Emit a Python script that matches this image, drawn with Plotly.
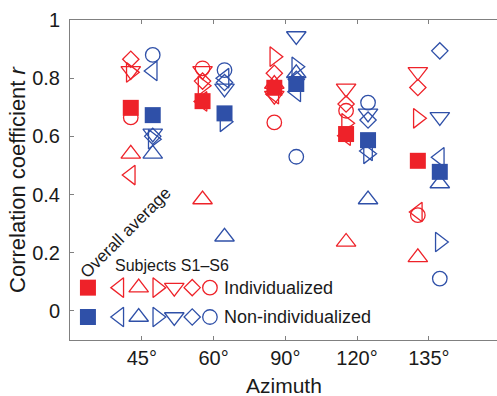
import plotly.graph_objects as go

# ---------------- data ----------------
azimuths = ["45°", "60°", "90°", "120°", "135°"]
subjects = ["S1", "S2", "S3", "S4", "S5", "S6"]

# Individualized (red), one list per subject across azimuths
ind_s1 = [0.467, 0.720, 0.745, 0.602, 0.340]
ind_s2 = [0.540, 0.383, 0.780, 0.237, 0.184]
ind_s3 = [0.820, 0.774, 0.874, 0.645, 0.662]
ind_s4 = [0.825, 0.825, 0.740, 0.765, 0.822]
ind_s5 = [0.865, 0.790, 0.817, 0.711, 0.768]
ind_s6 = [0.665, 0.834, 0.648, 0.688, 0.329]
ind_avg = [0.698, 0.721, 0.767, 0.608, 0.516]

# Non-individualized (blue)
non_s1 = [0.825, 0.800, 0.753, 0.550, 0.528]
non_s2 = [0.540, 0.255, 0.817, 0.383, 0.438]
non_s3 = [0.590, 0.650, 0.839, 0.540, 0.237]
non_s4 = [0.610, 0.765, 0.945, 0.679, 0.667]
non_s5 = [0.600, 0.785, 0.796, 0.656, 0.894]
non_s6 = [0.880, 0.828, 0.530, 0.716, 0.111]
non_avg = [0.673, 0.679, 0.780, 0.587, 0.478]

ind_subjects = [ind_s1, ind_s2, ind_s3, ind_s4, ind_s5, ind_s6]
non_subjects = [non_s1, non_s2, non_s3, non_s4, non_s5, non_s6]

# ---------------- style ----------------
RED = "#EE2229"
BLUE = "#2F50A8"
AXIS = "#808080"
TXT = "#1a1a1a"
FONT = "Liberation Sans, Arial, sans-serif"
symbols = ["triangle-left-open", "triangle-up-open", "triangle-right-open",
           "triangle-down-open", "diamond-open", "circle-open"]
sizes = [17, 17, 17, 17, 12.5, 14.5]
OFF = 0.153

fig = go.Figure()
xpos = list(range(1, len(azimuths) + 1))

for vals_list, color, off in ((ind_subjects, RED, -OFF), (non_subjects, BLUE, OFF)):
    for k, vals in enumerate(vals_list):
        fig.add_trace(go.Scatter(
            x=[x + off for x in xpos], y=vals, mode="markers",
            name=subjects[k], showlegend=False,
            marker=dict(symbol=symbols[k], size=sizes[k], color=color,
                        line=dict(width=1.3, color=color)),
        ))

for avg, color, off in ((ind_avg, RED, -OFF), (non_avg, BLUE, OFF)):
    fig.add_trace(go.Scatter(
        x=[x + off for x in xpos], y=avg, mode="markers", showlegend=False,
        marker=dict(symbol="square", size=16, color=color, line=dict(width=0)),
    ))

# ---------------- in-plot legend ----------------
leg_rows = [("Individualized", RED, 0.080), ("Non-individualized", BLUE, -0.021)]
sq_x = 0.25
sym_x = [0.687, 0.957, 1.216, 1.453, 1.703, 1.950]
for label, color, yrow in leg_rows:
    fig.add_trace(go.Scatter(x=[sq_x], y=[yrow], mode="markers", showlegend=False,
                             marker=dict(symbol="square", size=16, color=color, line=dict(width=0))))
    for k in range(len(subjects)):
        fig.add_trace(go.Scatter(x=[sym_x[k]], y=[yrow], mode="markers", showlegend=False,
                                 marker=dict(symbol=symbols[k], size=sizes[k], color=color,
                                             line=dict(width=1.3, color=color))))
    fig.add_annotation(x=2.12, y=yrow, text=label, showarrow=False, xanchor="left",
                       yanchor="middle", font=dict(family=FONT, size=18, color=TXT))

fig.add_annotation(x=0.60, y=0.155, text="Subjects S1–S6", showarrow=False, xanchor="left",
                   yanchor="middle", font=dict(family=FONT, size=16, color=TXT))
fig.add_annotation(x=0.78, y=0.268, text="Overall average", showarrow=False, textangle=-45,
                   xanchor="center", yanchor="middle", font=dict(family=FONT, size=17, color=TXT))

# x-axis title placed below the tick labels
fig.add_annotation(x=0.5, xref="paper", y=-0.142, yref="paper", text="Azimuth",
                   showarrow=False, xanchor="center", yanchor="middle",
                   font=dict(family=FONT, size=21, color=TXT))

fig.update_layout(
    width=497, height=396,
    margin=dict(l=70, r=0, t=20, b=56),
    paper_bgcolor="white", plot_bgcolor="white",
    font=dict(family=FONT, color=TXT),
    xaxis=dict(
        range=[0, 5.95], tickmode="array", tickvals=xpos, ticktext=azimuths,
        showgrid=False, zeroline=False, showline=True, linecolor=AXIS, linewidth=1,
        mirror="ticks", ticks="inside", ticklen=4, tickcolor=AXIS,
        tickfont=dict(family=FONT, size=20, color=TXT), ticklabelstandoff=0,
    ),
    yaxis=dict(
        range=[-0.1, 1.0], tickmode="array", tickvals=[0, 0.2, 0.4, 0.6, 0.8, 1],
        ticktext=["0", "0.2", "0.4", "0.6", "0.8", "1"],
        showgrid=False, zeroline=False, showline=True, linecolor=AXIS, linewidth=1,
        ticks="inside", ticklen=4, tickcolor=AXIS,
        tickfont=dict(family=FONT, size=20, color=TXT), ticklabelstandoff=5,
        title=dict(text="Correlation coefficient <i>r</i>", font=dict(family=FONT, size=22, color=TXT),
                   standoff=0),
    ),
)

fig.write_html("out.html")
